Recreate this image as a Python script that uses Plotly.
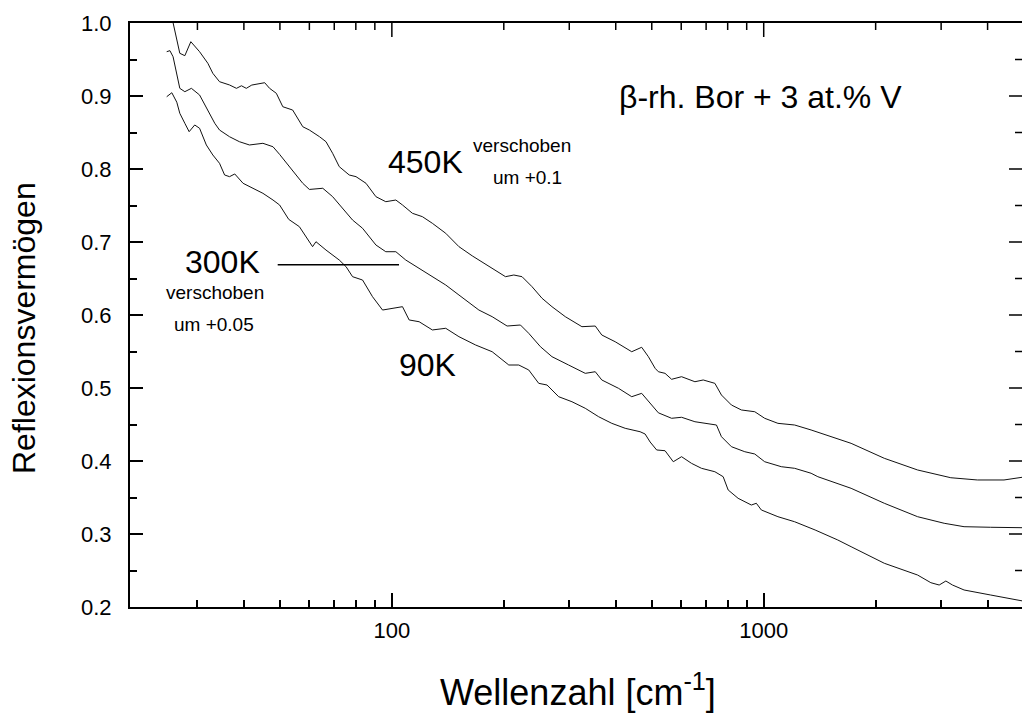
import math
import plotly.graph_objects as go

# 450K curve (shifted by +0.1)
wn_450 = [24.8, 25.8, 26.9, 27.75, 28.8, 30.4, 32.0, 33.0, 34.4, 36.6, 38.2, 39.4, 40.6, 42.0, 43.6,
          45.5, 46.9, 48.9, 50.9, 54.1, 57.6, 60.0, 63.9, 66.5, 69.3, 72.2, 76.8, 80.1, 85.2, 90.6,
          96.3, 102.5, 106.8, 113.6, 120.8, 128.5, 139.6, 151.5, 164.5, 171.4, 182.4, 202.1, 212.8,
          223.9, 238.2, 253.4, 269.5, 292.7, 324.4, 352.4, 366.9, 398.6, 441.6, 469.7, 489.6, 510.4,
          520.8, 542.8, 565.4, 601.3, 653.1, 687.6, 739.0, 769.7, 818.8, 870.9, 946.0, 1006, 1092,
          1211, 1341, 1398, 1582, 1718, 2110, 2593, 3185, 3755, 4428, 4807, 5000]
r_450 = [1.04, 1.0, 0.9585, 0.9552, 0.9744, 0.9607, 0.9448, 0.9311, 0.9196, 0.9151, 0.9105, 0.9140,
         0.9105, 0.9150, 0.9164, 0.9182, 0.9105, 0.9037, 0.8853, 0.8808, 0.8579, 0.8534, 0.8442,
         0.8374, 0.8215, 0.8032, 0.7918, 0.7895, 0.7804, 0.7621, 0.7552, 0.7575, 0.7507, 0.7393,
         0.7347, 0.7256, 0.7119, 0.6936, 0.6810, 0.6753, 0.6662, 0.6525, 0.6548, 0.6525, 0.6388,
         0.6229, 0.6114, 0.5977, 0.5840, 0.5849, 0.5726, 0.5634, 0.5497, 0.5558, 0.5429, 0.5270,
         0.5223, 0.5201, 0.5119, 0.5155, 0.5086, 0.5110, 0.5064, 0.4904, 0.4767, 0.4699, 0.4675,
         0.4585, 0.4516, 0.4493, 0.4425, 0.4393, 0.4297, 0.4242, 0.4037, 0.3877, 0.3771, 0.3740,
         0.3740, 0.3763, 0.3780]

# 300K curve (shifted by +0.05)
wn_300 = [24.8, 25.3, 25.8, 26.4, 26.9, 27.75, 28.9, 30.4, 31.7, 33.4, 34.4, 36.6, 38.9, 41.4, 45.0,
          47.9, 49.9, 53.0, 56.4, 57.6, 60.0, 65.2, 69.3, 73.7, 78.4, 83.4, 90.6, 96.3, 102.5, 109.0,
          118.4, 128.5, 139.6, 151.5, 168.0, 171.4, 186.1, 204.1, 221.7, 233.4, 250.9, 269.5, 298.7,
          331.2, 352.4, 366.9, 406.8, 441.6, 469.7, 494.8, 520.8, 565.4, 601.3, 653.1, 709.2, 746.3,
          769.7, 818.8, 889.5, 946.0, 1006, 1115, 1211, 1341, 1398, 1582, 1718, 2110, 2593, 3057,
          3458, 4076, 5000]
r_300 = [0.9607, 0.9621, 0.9538, 0.9311, 0.9105, 0.9059, 0.9105, 0.9014, 0.8832, 0.8626, 0.8534,
         0.8442, 0.8374, 0.8329, 0.8352, 0.8305, 0.8200, 0.8032, 0.7849, 0.7804, 0.7720, 0.7736,
         0.7621, 0.7462, 0.7301, 0.7188, 0.6959, 0.6867, 0.6867, 0.6753, 0.6640, 0.6525, 0.6411,
         0.6274, 0.6092, 0.6068, 0.5977, 0.5849, 0.5863, 0.5749, 0.5566, 0.5429, 0.5315, 0.5201,
         0.5223, 0.5110, 0.4996, 0.4881, 0.4927, 0.4790, 0.4660, 0.4585, 0.4599, 0.4538, 0.4516,
         0.4493, 0.4333, 0.4196, 0.4127, 0.4096, 0.3990, 0.3922, 0.3900, 0.3832, 0.3785, 0.3685,
         0.3626, 0.3421, 0.3237, 0.3147, 0.3100, 0.3092, 0.3086]

# 90K curve
wn_90 = [24.8, 25.6, 26.4, 26.9, 27.75, 28.5, 29.5, 30.4, 31.7, 33.0, 34.4, 35.5, 36.6, 37.8, 39.8,
         42.3, 45.0, 47.9, 49.9, 52.8, 56.4, 61.2, 62.5, 66.5, 72.2, 75.3, 78.4, 83.4, 88.7, 94.4,
         102.5, 106.8, 111.3, 118.4, 128.5, 139.6, 151.5, 168.0, 186.1, 202.1, 206.3, 219.4, 233.4,
         248.3, 261.4, 280.9, 305.0, 331.2, 359.7, 390.4, 424.1, 465.1, 479.7, 495.0, 515.4, 542.8,
         571.2, 601.3, 639.4, 680.2, 739.0, 778.0, 802.4, 853.4, 926.3, 955.3, 985.4, 1092, 1211,
         1375, 1582, 1718, 2110, 2593, 2815, 2964, 3089, 3219, 3458, 4078, 4730, 5000]
r_90 = [0.8990, 0.9045, 0.8915, 0.8763, 0.8626, 0.8511, 0.8603, 0.8558, 0.8329, 0.8192, 0.8078,
        0.7918, 0.7895, 0.7932, 0.7804, 0.7736, 0.7667, 0.7575, 0.7507, 0.7310, 0.7210, 0.6936,
        0.7004, 0.6890, 0.6753, 0.6662, 0.6525, 0.6479, 0.6251, 0.6068, 0.6092, 0.6114, 0.5932,
        0.5908, 0.5795, 0.5818, 0.5703, 0.5589, 0.5497, 0.5360, 0.5315, 0.5315, 0.5247, 0.5064,
        0.5041, 0.4881, 0.4812, 0.4722, 0.4607, 0.4516, 0.4448, 0.4401, 0.4370, 0.4260, 0.4151,
        0.4141, 0.3990, 0.4059, 0.3968, 0.3900, 0.3853, 0.3785, 0.3603, 0.3489, 0.3397, 0.3421,
        0.3329, 0.3237, 0.3168, 0.3055, 0.2918, 0.2826, 0.2599, 0.2438, 0.2333, 0.2301, 0.2356,
        0.2301, 0.2233, 0.2164, 0.2096, 0.2080]

x_major = [100, 1000]
x_major_labels = ["100", "1000"]
x_minor = [30, 40, 50, 60, 70, 80, 90, 200, 300, 400, 500, 600, 700, 800, 900, 2000, 3000, 4000]
y_major = [0.3, 0.4, 0.5, 0.6, 0.7, 0.8, 0.9]
y_minor = [0.25, 0.35, 0.45, 0.55, 0.65, 0.75, 0.85, 0.95]
x_range = [19.76, 4950]
y_range = [0.2, 1.0]

FONT = "Arial, Liberation Sans, Helvetica, sans-serif"

fig = go.Figure()
for wn, r, name in [(wn_450, r_450, "450K"), (wn_300, r_300, "300K"), (wn_90, r_90, "90K")]:
    fig.add_trace(go.Scatter(x=wn, y=r, mode="lines", name=name,
                             line=dict(color="#111111", width=1), showlegend=False))

xr = [math.log10(x_range[0]), math.log10(x_range[1])]
tickfont = dict(family=FONT, size=22, color="black")

fig.update_layout(
    xaxis=dict(type="log", range=xr, tickvals=x_major, ticktext=x_major_labels,
               ticks="inside", ticklen=14, tickwidth=1.5, tickcolor="black",
               ticklabelstandoff=3,
               minor=dict(tickvals=x_minor, ticks="inside", ticklen=7, tickwidth=1.5,
                          tickcolor="black", showgrid=False),
               showline=True, linecolor="black", linewidth=2, mirror=True,
               showgrid=False, zeroline=False, tickfont=tickfont),
    yaxis=dict(range=y_range, dtick=0.1, tick0=0.2, tickformat=".1f",
               ticks="inside", ticklen=13, tickwidth=1.5, tickcolor="black",
               ticklabelstandoff=12,
               minor=dict(dtick=0.05, ticks="inside", ticklen=7, tickwidth=1.5,
                          tickcolor="black", showgrid=False),
               showline=True, linecolor="black", linewidth=2, mirror=False,
               showgrid=False, zeroline=False, tickfont=tickfont),
)

# plot area in pixels: 130..1022 wide, 23..607 high
PW, PH = 892.0, 584.0

# mirrored tick marks on the top and right frame edges
def xfrac(v):
    return (math.log10(v) - xr[0]) / (xr[1] - xr[0])

def yfrac(v):
    return (v - y_range[0]) / (y_range[1] - y_range[0])

tick_line = dict(color="black", width=1.5)
for vals, ln in [(x_major, 14), (x_minor, 7)]:
    for v in vals:
        f = xfrac(v)
        fig.add_shape(type="line", xref="paper", yref="paper", x0=f, x1=f,
                      y0=1.0, y1=1.0 - ln / PH, line=tick_line)
for vals, ln in [(y_major, 13), (y_minor, 7)]:
    for v in vals:
        f = yfrac(v)
        fig.add_shape(type="line", xref="paper", yref="paper", x0=1.0, x1=1.0 - ln / PW,
                      y0=f, y1=f, line=tick_line)

def ann(text, x, y, size, **kw):
    fig.add_annotation(text=text, x=x, y=y, xref="paper", yref="paper", showarrow=False,
                       font=dict(family=FONT, size=size, color="black"),
                       xanchor="center", yanchor="middle", **kw)

def px(v):
    return (v - 130) / PW

ann("β-rh. Bor + 3 at.% V", px(760), 0.8733, 32)
ann("450K", px(425), 0.762, 32)
ann("verschoben", px(522), 0.791, 19)
ann("um +0.1", px(527), 0.7346, 19)
ann("300K", px(222), 0.5908, 32)
ann("verschoben", px(215), 0.538, 19)
ann("um +0.05", px(214), 0.4829, 19)
ann("90K", px(427), 0.4144, 32)
ann("Wellenzahl [cm<sup>-1</sup>]", px(578), -0.1421, 36)
ann("Reflexionsvermögen", px(24), 0.4777, 32, textangle=-90)

fig.add_shape(type="line", xref="paper", yref="paper", x0=px(277.7), x1=px(399), y0=0.5861, y1=0.5861,
              line=dict(color="black", width=1.5))

fig.update_layout(width=1024, height=717, margin=dict(l=130, r=2, t=23, b=110),
                  plot_bgcolor="white", paper_bgcolor="white",
                  font=dict(family=FONT, color="black"))

fig.write_html("out.html", config={"displayModeBar": False},
               post_script="document.body.style.margin='0px';")
